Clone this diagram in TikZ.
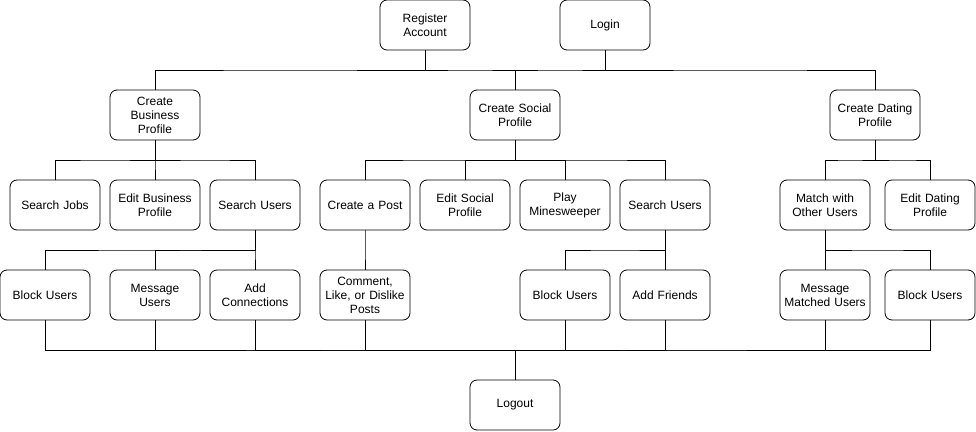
\documentclass[tikz,border=0pt]{standalone}
\usepackage{fontspec}
\setmainfont{Liberation Sans}
\usetikzlibrary{calc}

\begin{document}
\begin{tikzpicture}[
    x=1pt, y=-1pt,
    box/.style={rectangle, draw, rounded corners=7pt, minimum width=90pt, minimum height=50pt, text width=86pt, align=center, inner sep=0pt, line width=0.8pt, font=\fontsize{12}{14}\selectfont},
    bus/.style={line width=0.8pt, to path={(\tikztostart) |- ($(\tikztostart)!0.5!(\tikztotarget)$) -| (\tikztotarget)}}
]
\useasboundingbox (0,0) rectangle (976,431);

% entry
\node[box] (register) at (425,25) {Register\\Account};
\node[box] (login) at (605,25) {Login};

% profiles
\node[box] (business) at (155,115) {Create\\Business\\Profile};
\node[box] (social) at (515,115) {Create Social\\Profile};
\node[box] (dating) at (875,115) {Create Dating\\Profile};

% business actions
\node[box] (jobs) at (55,205) {Search Jobs};
\node[box] (editbiz) at (155,205) {Edit Business\\Profile};
\node[box] (bizsearch) at (255,205) {Search Users};
\node[box] (bizblock) at (45,295) {Block Users};
\node[box] (bizmsg) at (155,295) {Message\\Users};
\node[box] (connect) at (255,295) {Add\\Connections};

% social actions
\node[box] (post) at (365,205) {Create a Post};
\node[box] (editsoc) at (465,205) {Edit Social\\Profile};
\node[box] (mines) at (565,205) {Play\\Minesweeper};
\node[box] (socsearch) at (665,205) {Search Users};
\node[box] (comment) at (365,295) {Comment,\\Like, or Dislike\\Posts};
\node[box] (socblock) at (565,295) {Block Users};
\node[box] (friends) at (665,295) {Add Friends};

% dating actions
\node[box] (match) at (825,205) {Match with\\Other Users};
\node[box] (editdat) at (930,205) {Edit Dating\\Profile};
\node[box] (datmsg) at (825,295) {Message\\Matched Users};
\node[box] (datblock) at (930,295) {Block Users};

\node[box] (logout) at (515,405) {Logout};

\draw[bus] (register.south) to (business.north);
\draw[bus] (register.south) to (social.north);
\draw[bus] (login.south) to (social.north);
\draw[bus] (login.south) to (dating.north);

\draw[bus] (business.south) to (jobs.north);
\draw[bus] (business.south) to (editbiz.north);
\draw[bus] (business.south) to (bizsearch.north);
\draw[bus] (bizsearch.south) to (bizblock.north);
\draw[bus] (bizsearch.south) to (bizmsg.north);
\draw[bus] (bizsearch.south) to (connect.north);

\draw[bus] (social.south) to (post.north);
\draw[bus] (social.south) to (editsoc.north);
\draw[bus] (social.south) to (mines.north);
\draw[bus] (social.south) to (socsearch.north);
\draw[bus] (post.south) to (comment.north);
\draw[bus] (socsearch.south) to (socblock.north);
\draw[bus] (socsearch.south) to (friends.north);

\draw[bus] (dating.south) to (match.north);
\draw[bus] (dating.south) to (editdat.north);
\draw[bus] (match.south) to (datmsg.north);
\draw[bus] (match.south) to (datblock.north);

\draw[bus] (bizblock.south) to (logout.north);
\draw[bus] (bizmsg.south) to (logout.north);
\draw[bus] (connect.south) to (logout.north);
\draw[bus] (comment.south) to (logout.north);
\draw[bus] (socblock.south) to (logout.north);
\draw[bus] (friends.south) to (logout.north);
\draw[bus] (datmsg.south) to (logout.north);
\draw[bus] (datblock.south) to (logout.north);

\end{tikzpicture}
\end{document}
